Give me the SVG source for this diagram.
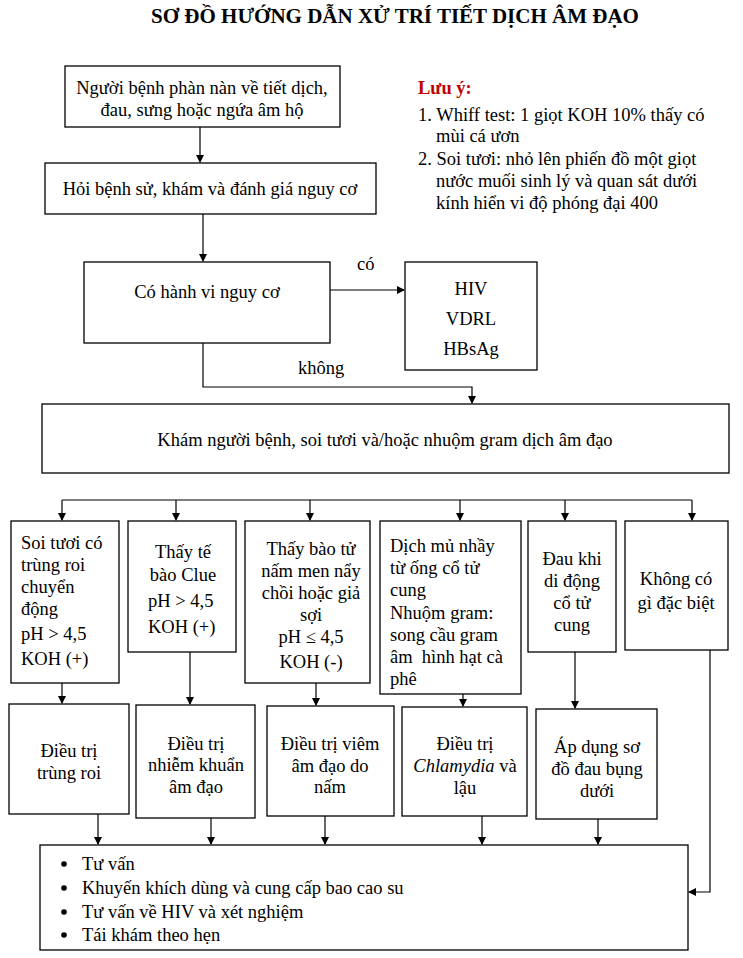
<svg xmlns="http://www.w3.org/2000/svg" width="743" height="958" viewBox="0 0 743 958">
<style>
rect{fill:#fff;stroke:#000;stroke-width:1.3}
text{font-family:"Liberation Serif",serif;font-size:18.5px;fill:#000}
.c{text-anchor:middle}
.t{font-weight:bold;font-size:21px}
.r{fill:#c00000;font-weight:bold}
line,polyline{stroke:#000;stroke-width:1.2;fill:none}
</style>
<defs><marker id="a" markerWidth="8" markerHeight="8" refX="7" refY="4" orient="auto" markerUnits="userSpaceOnUse"><path d="M0,0 L8,4 L0,8 z" fill="#000"/></marker></defs>
<text x="395" y="23" class="c t">SƠ ĐỒ HƯỚNG DẪN XỬ TRÍ TIẾT DỊCH ÂM ĐẠO</text>
<g id="note">
<text x="418" y="94" class="r">Lưu ý:</text>
<text x="418" y="121">1. Whiff test: 1 giọt KOH 10% thấy có</text>
<text x="436" y="142">mùi cá ươn</text>
<text x="418" y="165">2. Soi tươi: nhỏ lên phiến đồ một giọt</text>
<text x="436" y="187">nước muối sinh lý và quan sát dưới</text>
<text x="436" y="209">kính hiển vi độ phóng đại 400</text>
</g>
<g id="n1"><rect x="65" y="66" width="275" height="61"/><text x="202" y="94" class="c">Người bệnh phàn nàn về tiết dịch,</text><text x="202" y="116" class="c">đau, sưng hoặc ngứa âm hộ</text></g>
<g id="n2"><rect x="45" y="163" width="331" height="51"/><text x="210" y="195" class="c">Hỏi bệnh sử, khám và đánh giá nguy cơ</text></g>
<g id="n3"><rect x="84" y="262" width="246" height="81"/><text x="207" y="298" class="c">Có hành vi nguy cơ</text></g>
<g id="n4"><rect x="405" y="262" width="132" height="108"/><text x="471" y="295" class="c">HIV</text><text x="471" y="325" class="c">VDRL</text><text x="471" y="355" class="c">HBsAg</text></g>
<g id="n5"><rect x="42" y="404" width="687" height="69"/><text x="385" y="446" class="c">Khám người bệnh, soi tươi và/hoặc nhuộm gram dịch âm đạo</text></g>
<g id="a1"><rect x="11" y="521" width="108" height="162"/><text x="21" y="549">Soi tươi có</text><text x="21" y="571">trùng roi</text><text x="21" y="593">chuyển</text><text x="21" y="615">động</text><text x="21" y="640">pH &gt; 4,5</text><text x="21" y="665">KOH (+)</text></g>
<g id="b1"><rect x="128" y="521" width="108" height="131"/><text x="183" y="558" class="c">Thấy tế</text><text x="183" y="581" class="c">bào Clue</text><text x="148" y="607">pH &gt; 4,5</text><text x="148" y="633">KOH (+)</text></g>
<g id="c1"><rect x="245" y="521" width="125" height="162"/><text x="311" y="555" class="c">Thấy bào tử</text><text x="311" y="577" class="c">nấm men nẩy</text><text x="311" y="599" class="c">chồi hoặc giả</text><text x="311" y="621" class="c">sợi</text><text x="311" y="643" class="c">pH ≤ 4,5</text><text x="311" y="668" class="c">KOH (-)</text></g>
<g id="d1"><rect x="380" y="521" width="141" height="173"/><text x="390" y="552">Dịch mủ nhầy</text><text x="390" y="574">từ ống cổ tử</text><text x="390" y="596">cung</text><text x="390" y="619">Nhuộm gram:</text><text x="390" y="641">song cầu gram</text><text x="390" y="663" xml:space="preserve">âm  hình hạt cà</text><text x="390" y="685">phê</text></g>
<g id="e1"><rect x="528" y="521" width="88" height="131"/><text x="572" y="565" class="c">Đau khi</text><text x="572" y="587" class="c">di động</text><text x="572" y="609" class="c">cổ tử</text><text x="572" y="631" class="c">cung</text></g>
<g id="f1"><rect x="625" y="521" width="103" height="129"/><text x="676" y="585" class="c">Không có</text><text x="676" y="609" class="c">gì đặc biệt</text></g>
<g id="a2"><rect x="9" y="704" width="120" height="110"/><text x="69" y="757" class="c">Điều trị</text><text x="69" y="779" class="c">trùng roi</text></g>
<g id="b2"><rect x="136" y="705" width="119" height="113"/><text x="196" y="750" class="c">Điều trị</text><text x="196" y="771" class="c">nhiễm khuẩn</text><text x="196" y="793" class="c">âm đạo</text></g>
<g id="c2"><rect x="267" y="706" width="127" height="110"/><text x="330" y="750" class="c">Điều trị viêm</text><text x="330" y="772" class="c">âm đạo do</text><text x="330" y="793" class="c">nấm</text></g>
<g id="d2"><rect x="402" y="707" width="125" height="109"/><text x="465" y="750" class="c">Điều trị</text><text x="465" y="772" class="c"><tspan font-style="italic">Chlamydia</tspan> và</text><text x="465" y="794" class="c">lậu</text></g>
<g id="e2"><rect x="536" y="709" width="121" height="110"/><text x="597" y="753" class="c">Áp dụng sơ</text><text x="597" y="775" class="c">đồ đau bụng</text><text x="597" y="797" class="c">dưới</text></g>
<g id="final"><rect x="40" y="845" width="648" height="105"/>
<circle cx="64" cy="864" r="2.8"/><circle cx="64" cy="888" r="2.8"/><circle cx="64" cy="912" r="2.8"/><circle cx="64" cy="935" r="2.8"/>
<text x="82" y="870">Tư vấn</text><text x="82" y="894">Khuyến khích dùng và cung cấp bao cao su</text><text x="82" y="918">Tư vấn về HIV và xét nghiệm</text><text x="82" y="941">Tái khám theo hẹn</text></g>
<g id="connectors">
<line x1="200" y1="127" x2="200" y2="162" marker-end="url(#a)"/>
<line x1="203" y1="214" x2="203" y2="261" marker-end="url(#a)"/>
<line x1="330" y1="290" x2="404" y2="290" marker-end="url(#a)"/>
<text x="357" y="270">có</text>
<polyline points="203,343 203,387 472,387 472,403" marker-end="url(#a)"/>
<text x="298" y="374">không</text>
<line x1="62" y1="500" x2="692" y2="500"/>
<line x1="62" y1="500" x2="62" y2="520" marker-end="url(#a)"/>
<line x1="176" y1="500" x2="176" y2="520" marker-end="url(#a)"/>
<line x1="310" y1="500" x2="310" y2="520" marker-end="url(#a)"/>
<line x1="460" y1="500" x2="460" y2="520" marker-end="url(#a)"/>
<line x1="565" y1="500" x2="565" y2="520" marker-end="url(#a)"/>
<line x1="692" y1="500" x2="692" y2="520" marker-end="url(#a)"/>
<line x1="62" y1="683" x2="62" y2="703" marker-end="url(#a)"/>
<line x1="190" y1="652" x2="190" y2="704" marker-end="url(#a)"/>
<line x1="316" y1="683" x2="316" y2="705" marker-end="url(#a)"/>
<line x1="463" y1="694" x2="463" y2="706" marker-end="url(#a)"/>
<line x1="575" y1="652" x2="575" y2="708" marker-end="url(#a)"/>
<line x1="98" y1="814" x2="98" y2="844" marker-end="url(#a)"/>
<line x1="211" y1="818" x2="211" y2="844" marker-end="url(#a)"/>
<line x1="325" y1="816" x2="325" y2="844" marker-end="url(#a)"/>
<line x1="482" y1="816" x2="482" y2="844" marker-end="url(#a)"/>
<line x1="598" y1="819" x2="598" y2="844" marker-end="url(#a)"/>
<polyline points="710,650 710,892 689,892" marker-end="url(#a)"/>
</g>
</svg>
